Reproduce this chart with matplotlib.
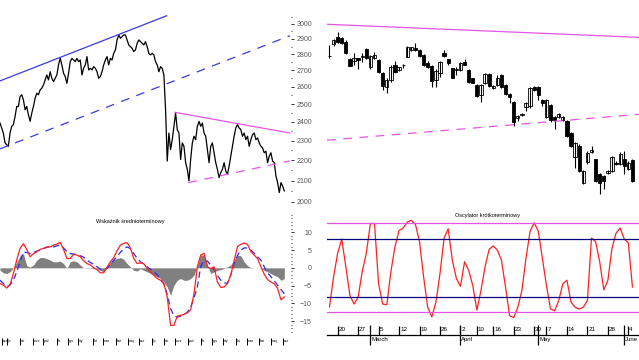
import numpy as np
import pandas as pd
import matplotlib
matplotlib.use("Agg")
from matplotlib import pyplot as plt
from matplotlib import ticker, transforms

plt.rcParams['font.family'] = ['Liberation Sans', 'DejaVu Sans']

# ---------------- data ----------------
# long-term close (one value every 3rd session)
close_lt = [2394, 2367, 2340, 2288, 2279, 2270, 2340, 2376, 2385, 2430,
            2486, 2486, 2543, 2553, 2524, 2467, 2486, 2439, 2403, 2449,
            2486, 2534, 2562, 2553, 2582, 2592, 2611, 2641, 2671, 2641,
            2691, 2651, 2631, 2651, 2671, 2733, 2774, 2733, 2681, 2661,
            2621, 2681, 2753, 2774, 2764, 2753, 2774, 2753, 2764, 2671,
            2712, 2733, 2785, 2702, 2712, 2702, 2722, 2712, 2691, 2651,
            2661, 2691, 2733, 2764, 2785, 2733, 2774, 2764, 2806, 2828,
            2893, 2926, 2904, 2915, 2926, 2926, 2893, 2860, 2849, 2838,
            2817, 2828, 2871, 2893, 2882, 2871, 2860, 2882, 2849, 2806,
            2796, 2806, 2796, 2753, 2733, 2691, 2722, 2712, 2671, 2467,
            2195, 2340, 2253, 2305, 2376, 2449, 2358, 2340, 2203, 2288,
            2270, 2187, 2154, 2098, 2203, 2288, 2323, 2305, 2376, 2403,
            2376, 2394, 2340, 2323, 2253, 2187, 2270, 2288, 2237, 2187,
            2154, 2114, 2138, 2154, 2187, 2146, 2130, 2170, 2220, 2270,
            2323, 2367, 2385, 2367, 2358, 2323, 2340, 2305, 2323, 2270,
            2305, 2331, 2340, 2305, 2314, 2288, 2270, 2262, 2237, 2245,
            2187, 2220, 2237, 2195, 2187, 2122, 2090, 2043, 2090, 2074,
            2051]

# trend lines on the long-term chart: (session, value) end points
chan_up = [(0, 2635), (299, 3057)]
chan_low = [(0, 2257), (520, 2921)]
tri_top = [(314, 2453), (520, 2340)]
tri_low = [(338, 2090), (520, 2196)]

# medium-term indicator (one value every 6th session)
macd = [-4.4, -4.9, -5.7, -4.8, -1.6, 2.2, 5.5, 6.8, 5.2, 3.1,
        4.0, 4.5, 5.2, 5.5, 5.9, 5.9, 6.4, 6.7, 7.2, 5.2,
        2.6, 2.6, 3.8, 3.6, 3.1, 2.0, 1.2, 0.8, 0.0, -0.5,
        -1.4, -1.4, 0.2, 1.7, 2.9, 4.8, 6.4, 6.9, 7.1, 5.5,
        2.6, 1.2, 1.4, 1.2, -0.2, -1.1, -2.1, -3.0, -3.5, -4.4,
        -8.2, -16.2, -16.2, -13.6, -13.4, -13.1, -12.7, -11.8, -7.3, 0.3,
        3.6, 4.1, 0.3, -0.2, 0.3, -4.0, -5.5, -5.4, -4.4, -2.0,
        2.0, 6.0, 6.6, 7.0, 6.6, 4.6, 3.6, 2.6, 0.3, -1.8,
        -3.3, -4.0, -4.5, -5.8, -9.0, -8.2]
signal = [-3.5, -4.4, -5.3, -4.8, -3.5, -1.1, 1.7, 4.5, 4.3, 4.0,
          4.3, 4.7, 5.1, 5.4, 5.8, 5.9, 5.9, 6.2, 6.4, 5.6,
          4.6, 4.0, 3.9, 3.7, 3.4, 3.0, 2.2, 1.5, 1.0, 0.3,
          -0.4, -0.6, -0.2, 1.0, 2.2, 3.1, 4.4, 5.3, 5.9, 5.4,
          4.0, 2.7, 1.7, 1.0, 0.3, -0.4, -1.1, -2.0, -3.0, -4.6,
          -7.5, -11.5, -13.5, -13.9, -13.6, -13.2, -12.5, -11.0, -8.5, -5.4,
          0.3, 2.2, 1.9, 0.8, -0.5, -2.1, -3.5, -4.2, -4.4, -2.0,
          1.2, 3.5, 5.0, 5.6, 5.6, 5.0, 4.1, 3.1, 2.2, 0.3,
          -1.5, -2.5, -3.7, -4.9, -6.1, -7.3]
histo = [-0.7, -1.4, -1.6, -1.1, 0.0, 1.5, 3.4, 4.0, 0.6, 0.2,
         0.8, 2.2, 2.9, 2.9, 2.6, 2.2, 1.7, 1.7, 1.9, 1.2,
         -0.2, 1.7, 2.0, 1.7, 0.8, 0.0, -0.1, -0.1, -0.2, -0.2,
         -0.7, -1.1, 0.3, 1.7, 2.4, 2.6, 2.9, 2.4, 1.2, 0.3,
         -0.7, -0.9, -0.2, -0.7, -1.1, -1.6, -2.1, -2.5, -3.0, -4.0,
         -5.4, -7.7, -4.9, -3.5, -3.0, -3.5, -3.5, -3.0, -2.1, 0.8,
         3.6, 3.6, 0.8, -1.6, -1.1, -0.7, -0.5, -0.2, 0.3, 0.8,
         2.2, 3.6, 3.4, 1.7, 0.6, 0.1, 0.0, 0.0, 0.0, -0.7,
         -1.1, -1.6, -2.1, -2.5, -3.5, -3.0]

lt_ticks = [4, 13, 36, 59, 77, 102, 122, 140, 167, 185, 208, 230, 249,
            273, 294, 314, 337, 361, 380, 400, 423, 443, 465, 486, 508]
lt_labels = ['cze', 'lip', 'sie', 'wrz', 'paź', 'lis', 'gru', 'sty', 'lut',
             'mar', 'kwi', 'maj', 'cze', 'lip', 'sie', 'wrz', 'paź', 'lis',
             'gru', 'sty', 'lut', 'mar', 'kwi', 'maj', 'cze']

# daily candles, Feb 16 - Jun 5
o = [2790, 2867, 2915, 2908, 2882, 2768, 2760, 2774, 2783, 2831,
     2722, 2774, 2764, 2681, 2597, 2641, 2733, 2702, 2731, 2785,
     2828, 2838, 2828, 2796, 2746, 2726, 2641, 2681, 2810, 2768,
     2712, 2702, 2702, 2753, 2702, 2651, 2611, 2553, 2621, 2676,
     2592, 2611, 2671, 2611, 2558, 2514, 2420, 2440, 2483, 2486,
     2597, 2601, 2524, 2425, 2494, 2425, 2425, 2412, 2403, 2340,
     2214, 2270, 2090, 2190, 2240, 2203, 2130, 2122, 2138, 2146,
     2187, 2179, 2203, 2158, 2198]
h = [2862, 2898, 2944, 2915, 2890, 2775, 2810, 2778, 2806, 2838,
     2795, 2817, 2770, 2690, 2650, 2730, 2757, 2722, 2740, 2855,
     2850, 2871, 2835, 2800, 2757, 2730, 2705, 2760, 2828, 2770,
     2715, 2722, 2748, 2768, 2706, 2655, 2615, 2615, 2681, 2681,
     2611, 2671, 2676, 2615, 2562, 2518, 2440, 2450, 2510, 2600,
     2605, 2606, 2530, 2530, 2500, 2430, 2450, 2430, 2408, 2345,
     2292, 2280, 2150, 2245, 2270, 2208, 2135, 2125, 2150, 2220,
     2195, 2240, 2245, 2195, 2203]
l = [2776, 2852, 2870, 2865, 2800, 2725, 2735, 2706, 2753, 2770,
     2706, 2770, 2685, 2582, 2566, 2631, 2685, 2697, 2715, 2780,
     2820, 2820, 2785, 2725, 2715, 2600, 2597, 2661, 2785, 2733,
     2650, 2671, 2697, 2730, 2625, 2620, 2540, 2514, 2615, 2600,
     2585, 2605, 2590, 2553, 2503, 2376, 2405, 2435, 2458, 2480,
     2575, 2524, 2490, 2420, 2400, 2362, 2420, 2405, 2318, 2265,
     2161, 2140, 2085, 2179, 2235, 2094, 2036, 2060, 2130, 2140,
     2175, 2175, 2130, 2150, 2094]
c = [2792, 2893, 2880, 2876, 2806, 2729, 2774, 2764, 2786, 2774,
     2789, 2796, 2691, 2606, 2641, 2722, 2691, 2717, 2735, 2849,
     2845, 2825, 2789, 2733, 2722, 2637, 2697, 2753, 2789, 2746,
     2655, 2710, 2743, 2733, 2631, 2625, 2547, 2611, 2676, 2606,
     2606, 2655, 2597, 2558, 2539, 2398, 2433, 2444, 2503, 2592,
     2582, 2553, 2503, 2524, 2408, 2408, 2442, 2425, 2323, 2270,
     2288, 2146, 2146, 2237, 2253, 2098, 2090, 2098, 2146, 2214,
     2179, 2232, 2170, 2187, 2098]
tri2_top = [(-0.6, 2998), (75.6, 2910)]
tri2_low = [(-0.6, 2302), (75.6, 2442)]

# short-term oscillator, one value per session
osc = [-11.0, -2.6, 4.1, 8.1, 0.3, -7.8, -10.2, -8.3, -1.1, 4.1,
       12.5, 12.5, -4.5, -10.2, -10.4, -1.1, 6.0, 10.5, 11.2, 12.9,
       13.4, 12.2, 7.4, -2.6, -11.1, -13.8, -9.7, -1.6, 8.4, 11.0,
       2.2, -3.0, -5.2, 1.7, -0.7, -5.0, -11.9, -6.4, 0.3, 5.2,
       6.2, 5.0, 2.2, -5.4, -13.5, -14.0, -11.1, -6.4, 2.7, 10.3,
       12.7, 10.3, 2.7, -5.0, -11.6, -12.1, -9.2, -4.5, -3.5, -9.7,
       -11.1, -11.6, -11.1, -9.2, 8.4, 7.4, 1.7, -6.2, -3.5, 5.5,
       9.8, 11.2, 8.1, 7.0, -5.4]
osc_outer = 12.5
osc_inner = 8.2

holidays = pd.to_datetime(['2012-04-06', '2012-04-09', '2012-05-01', '2012-05-03'])
sessions = pd.bdate_range('2012-02-16', '2012-06-05')
sessions = sessions[~sessions.isin(holidays)]

# ---------------- layout ----------------
W, H = 639, 360
fig = plt.figure(figsize=(W / 100, H / 100), dpi=100)


def box(x0, y0, x1, y1):
    return [x0 / W, 1 - y1 / H, (x1 - x0) / W, (y1 - y0) / H]


ax_tl = fig.add_axes(box(0, 5, 291, 206))
ax_tr = fig.add_axes(box(327, 5, 639, 206))
ax_bl = fig.add_axes(box(0, 205, 291, 335.3))
ax_br = fig.add_axes(box(327, 205, 639, 335.3))

price_lim = (1981.5, 3132.7)
ind_lim = (-19.0, 17.7)
BLUE = '#3a3ade'
MAG = '#e455e4'

# ---------------- top left: long-term line ----------------
t_price = np.arange(len(close_lt)) * 3
ax_tl.plot(t_price, close_lt, color='black', lw=0.9)
for line, ls in [(chan_up, '-'), (chan_low, (0, (7, 6)))]:
    xs, ys = zip(*line)
    ax_tl.plot(xs, ys, color=BLUE, lw=0.9, ls=ls)
for line, ls in [(tri_top, '-'), (tri_low, (0, (7, 6)))]:
    xs, ys = zip(*line)
    ax_tl.plot(xs, ys, color=MAG, lw=0.9, ls=ls)
ax_tl.set_yscale('log')
ax_tl.set_ylim(*price_lim)
ax_tl.set_xlim(0, 522)
for s in ax_tl.spines.values():
    s.set_visible(False)
ax_tl.tick_params(axis='x', bottom=False, labelbottom=False)
ax_tl.yaxis.tick_right()
ax_tl.yaxis.set_major_locator(ticker.FixedLocator(range(2000, 3001, 100)))
ax_tl.yaxis.set_minor_locator(ticker.FixedLocator(range(2050, 3100, 100)))
ax_tl.yaxis.set_major_formatter(ticker.FuncFormatter(lambda v, p: f'{v:.0f}'))
ax_tl.yaxis.set_minor_formatter(ticker.NullFormatter())
ax_tl.tick_params(axis='y', which='major', direction='out', length=1.8, width=0.7,
                  color='#333333', labelsize=5, labelcolor='#555555', pad=13.3)
ax_tl.tick_params(axis='y', which='minor', direction='out', length=0.8, width=0.8,
                  color='#333333')
for tk in ax_tl.yaxis.get_major_ticks():
    tk.label2.set_horizontalalignment('right')

# ---------------- top right: candles ----------------
idx = np.arange(len(c))
o_a, h_a, l_a, c_a = map(np.array, (o, h, l, c))
up = c_a >= o_a
ax_tr.vlines(idx, l_a, h_a, color='black', lw=0.8)
ax_tr.bar(idx, c_a - o_a, bottom=o_a, width=0.8,
          color=np.where(up, 'white', 'black'), edgecolor='black', lw=0.6)
for line, ls in [(tri2_top, '-'), (tri2_low, (0, (7, 6)))]:
    xs, ys = zip(*line)
    ax_tr.plot(xs, ys, color=MAG, lw=0.9, ls=ls)
ax_tr.set_yscale('log')
ax_tr.set_ylim(*price_lim)
ax_tr.set_xlim(-0.6, 75.6)
ax_tr.set_axis_off()

# ---------------- bottom left: medium-term indicator ----------------
t_ind = np.arange(len(macd)) * 6
ax_bl.fill_between(t_ind, 0, histo, color='#808080', lw=0)
ax_bl.plot(t_ind, signal, color='#2a2aff', lw=0.9, ls=(0, (5, 3)))
ax_bl.plot(t_ind, macd, color='#ff2020', lw=0.9)
ax_bl.set_xlim(0, 522)
ax_bl.set_ylim(*ind_lim)
for s in ax_bl.spines.values():
    s.set_visible(False)
ax_bl.spines['bottom'].set_position(('outward', 2))
ax_bl.text(0.447, 0.872, 'Wskaźnik średnioterminowy', transform=ax_bl.transAxes,
           ha='center', va='center', fontsize=4)
ax_bl.yaxis.tick_right()
ax_bl.yaxis.set_major_locator(ticker.FixedLocator([-15, -10, -5, 0, 5, 10]))
ax_bl.yaxis.set_minor_locator(ticker.FixedLocator(range(-18, 16)))
ax_bl.yaxis.set_minor_formatter(ticker.NullFormatter())
ax_bl.tick_params(axis='y', which='major', direction='out', length=1.8, width=0.7,
                  color='#333333', labelsize=5, labelcolor='#555555', pad=13.3)
ax_bl.tick_params(axis='y', which='minor', direction='out', length=0.8, width=0.8,
                  color='#333333')
for tk in ax_bl.yaxis.get_major_ticks():
    tk.label2.set_horizontalalignment('right')
ax_bl.xaxis.set_major_locator(ticker.FixedLocator(lt_ticks))
ax_bl.xaxis.set_major_formatter(ticker.FixedFormatter(lt_labels))
ax_bl.tick_params(axis='x', direction='out', length=5, width=0.7, labelsize=2.5,
                  pad=-4)
off = transforms.ScaledTranslation(1 / 100, 0, fig.dpi_scale_trans)
for tk in ax_bl.xaxis.get_major_ticks():
    tk.label1.set_horizontalalignment('left')
    tk.label1.set_transform(tk.label1.get_transform() + off)

# ---------------- bottom right: short-term oscillator ----------------
ax_br.plot(np.arange(len(osc)), osc, color='#ff2020', lw=0.9)
for lev, col in [(osc_outer, MAG), (-osc_outer, MAG), (osc_inner, '#000080'),
                 (-osc_inner, '#000080')]:
    ax_br.axhline(lev, color=col, lw=0.9)
ax_br.set_xlim(-0.6, 75.6)
ax_br.set_ylim(*ind_lim)
for k in ['top', 'left', 'right']:
    ax_br.spines[k].set_visible(False)
ax_br.spines['bottom'].set_linewidth(0.9)
ax_br.tick_params(axis='y', left=False, labelleft=False)
ax_br.text(0.513, 0.916, 'Oscylator krótkoterminowy', transform=ax_br.transAxes,
           ha='center', va='center', fontsize=4)

week_idx, week_lab, month_idx, month_lab = [], [], [], []
for i in range(1, len(sessions)):
    d, p = sessions[i], sessions[i - 1]
    if d.isocalendar()[1] != p.isocalendar()[1]:
        week_idx.append(i)
        week_lab.append(str(d.day))
    if d.month != p.month:
        month_idx.append(i)
        month_lab.append(d.strftime('%B'))

ax_br.xaxis.remove_overlapping_locs = False
ax_br.xaxis.set_major_locator(ticker.FixedLocator(month_idx))
ax_br.xaxis.set_major_formatter(ticker.FixedFormatter(month_lab))
ax_br.xaxis.set_minor_locator(ticker.FixedLocator(week_idx))
ax_br.xaxis.set_minor_formatter(ticker.FixedFormatter(week_lab))
ax_br.tick_params(axis='x', which='major', direction='inout', length=13.7, width=0.9,
                  labelsize=4.3, pad=-5.4)
ax_br.tick_params(axis='x', which='minor', direction='in', length=6.5, width=0.9,
                  labelsize=4.5, pad=-5.8)
off2 = transforms.ScaledTranslation(1.0 / 100, 0, fig.dpi_scale_trans)
for tk in ax_br.xaxis.get_major_ticks() + ax_br.xaxis.get_minor_ticks():
    tk.label1.set_horizontalalignment('left')
    tk.label1.set_transform(tk.label1.get_transform() + off2)

fig.savefig('out.png', dpi=100)
